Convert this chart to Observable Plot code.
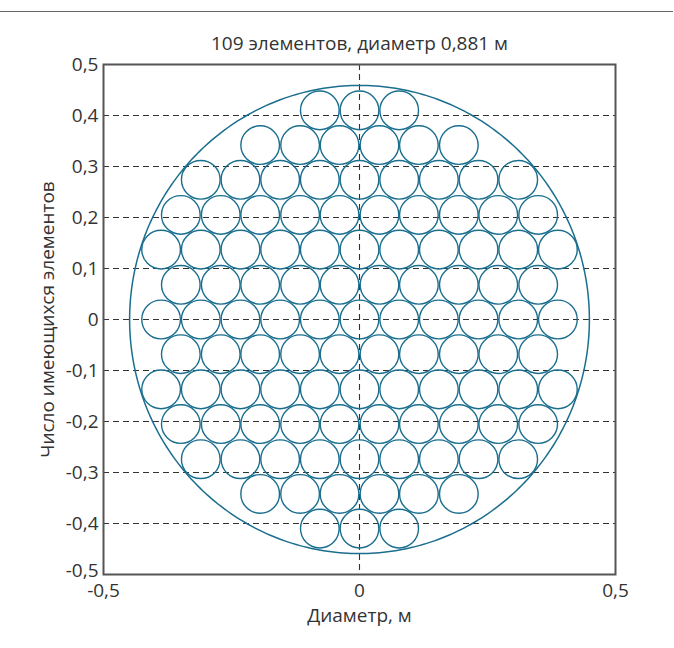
<!DOCTYPE html>
<html>
<head>
<meta charset="utf-8">
<script src="https://cdn.jsdelivr.net/npm/d3@7"></script>
<script src="https://cdn.jsdelivr.net/npm/@observablehq/plot@0.6"></script>
<style>
  html, body { margin: 0; padding: 0; background: #fff; }
  #wrap { position: relative; width: 674px; height: 648px; }
  #topline { position: absolute; left: 0; top: 11px; width: 673px; height: 0; border-top: 1.3px solid #666; }
</style>
</head>
<body>
<div id="wrap"><div id="topline"></div></div>
<script>
// --- data ---
const title = "109 элементов, диаметр 0,881 м";
const xLabel = "Диаметр, м";
const yLabel = "Число имеющихся элементов";
const xTicks = [-0.5, 0, 0.5];
const yTicks = [-0.4, -0.3, -0.2, -0.1, 0, 0.1, 0.2, 0.3, 0.4, 0.5];
const yTickBottom = [-0.5];
const gridY = [-0.4, -0.3, -0.2, -0.1, 0, 0.1, 0.2, 0.3, 0.4];
const gridX = [0];
// rows of packed elements (hexagonal packing)
const rowY = [0.41, 0.342, 0.274, 0.205, 0.137, 0.068, 0, -0.068, -0.137, -0.205, -0.274, -0.342, -0.41];
const rowCount = [3, 6, 9, 10, 11, 10, 11, 10, 11, 10, 9, 6, 3];
const rowType = ["c", "o", "c", "o", "c", "o", "c", "o", "c", "o", "c", "o", "c"];
const centeredX = [-0.3875, -0.31, -0.2325, -0.155, -0.0775, 0, 0.0775, 0.155, 0.2325, 0.31, 0.3875];
const offsetX = [-0.349, -0.271, -0.194, -0.116, -0.039, 0.039, 0.116, 0.194, 0.271, 0.349];
const elementDiameter = 0.0755;   // m (plot units)
const vesselRx = 0.449, vesselRy = 0.459;

// --- build element table ---
const elements = [];
rowY.forEach((y, i) => {
  const src = rowType[i] === "c" ? centeredX : offsetX;
  const n = rowCount[i];
  const start = (src.length - n) / 2;
  src.slice(start, start + n).forEach(x => elements.push({x, y}));
});
const vessel = d3.range(0, 361).map(a => {
  const t = a * Math.PI / 180;
  return {x: vesselRx * Math.cos(t), y: vesselRy * Math.sin(t)};
});

const fmt = d => Math.abs(d) < 1e-9 ? "0" : d.toFixed(1).replace(".", ",");

const W = 674, H = 648;
const mL = 103, mR = 59, mT = 64, mB = 74;
const pxPerUnit = (W - mL - mR);
const col = "#1a6e8e";
const txt = "#333";
const fs = 19;

const chart = Plot.plot({
  width: W, height: H,
  marginLeft: mL, marginRight: mR, marginTop: mT, marginBottom: mB,
  x: {domain: [-0.5, 0.5], axis: null},
  y: {domain: [-0.5, 0.5], axis: null},
  style: {fontFamily: "'Open Sans', sans-serif", fontSize: fs + "px", color: txt, background: "#fff"},
  marks: [
    Plot.ruleY(gridY, {y: d => d, stroke: "#333", strokeWidth: 1.1, strokeDasharray: "6,4"}),
    Plot.ruleX(gridX, {x: d => d, stroke: "#333", strokeWidth: 1.1, strokeDasharray: "6,4"}),
    Plot.line(vessel, {x: "x", y: "y", stroke: col, strokeWidth: 1.5}),
    Plot.dot(elements, {x: "x", y: "y", r: elementDiameter / 2 * pxPerUnit, stroke: col, strokeWidth: 1.4, fill: "none"}),
    Plot.frame({stroke: "#555", strokeWidth: 2}),
    Plot.text(yTicks, {y: d => d, frameAnchor: "left", dx: -5, textAnchor: "end", lineAnchor: "middle", text: fmt, fill: txt, fontSize: fs}),
    Plot.text(yTickBottom, {y: d => d, frameAnchor: "left", dx: -5, dy: -4, textAnchor: "end", lineAnchor: "middle", text: fmt, fill: txt, fontSize: fs}),
    Plot.text(xTicks, {x: d => d, frameAnchor: "bottom", dy: 16, textAnchor: "middle", lineAnchor: "middle", text: fmt, fill: txt, fontSize: fs}),
    Plot.text([xLabel], {frameAnchor: "bottom", dy: 41, textAnchor: "middle", lineAnchor: "middle", text: d => d, fill: txt, fontSize: fs}),
    Plot.text([yLabel], {frameAnchor: "left", dx: -56, rotate: -90, textAnchor: "middle", lineAnchor: "middle", text: d => d, fill: txt, fontSize: fs}),
    Plot.text([title], {frameAnchor: "top", dy: -21, textAnchor: "middle", lineAnchor: "middle", text: d => d, fill: txt, fontSize: fs})
  ]
});
document.getElementById("wrap").appendChild(chart);
</script>
</body>
</html>
